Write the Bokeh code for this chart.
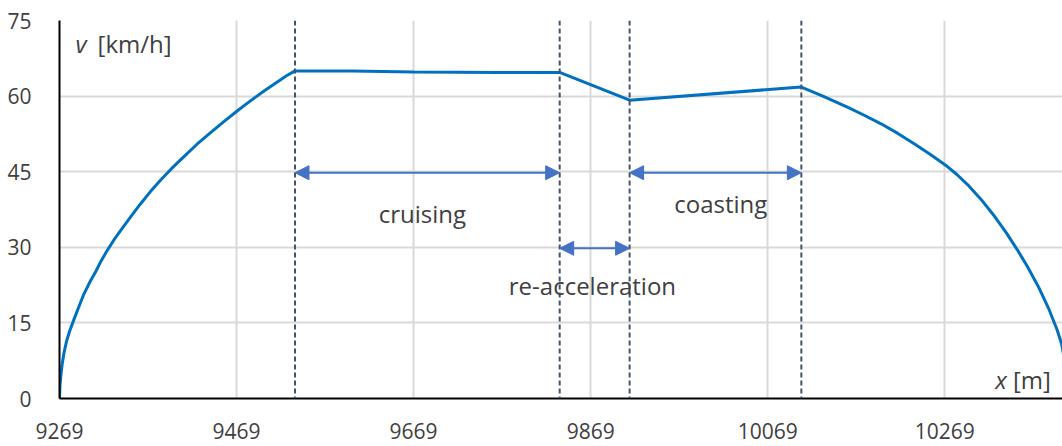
from bokeh.plotting import figure
from bokeh.models import Span, Arrow, NormalHead, Label, FixedTicker, Range1d, BasicTickFormatter
from bokeh.embed import file_html
from bokeh.resources import INLINE

# ---- data ----
x_m = [9269, 9269.5, 9270.5, 9272, 9274, 9277, 9280.5, 9284.5, 9290, 9296, 9303, 9310, 9316,
       9323, 9331, 9340, 9350, 9360, 9371, 9383, 9396, 9409, 9424, 9440, 9455,
       9470, 9485, 9500, 9515, 9525, 9535, 9600, 9669, 9767, 9834,
       9913, 10107,
       10130, 10159, 10178, 10197, 10216, 10234, 10252, 10270, 10283, 10295, 10310,
       10325, 10338, 10351, 10362, 10375, 10386, 10396, 10401, 10405, 10407.5, 10408.5]
v_kmh = [0, 2.5, 4.5, 6.8, 9.0, 11.4, 13.4, 15.3, 17.8, 20.5, 23.0, 25.2, 27.3,
         29.4, 31.6, 33.8, 36.2, 38.5, 40.9, 43.3, 45.7, 47.9, 50.4, 52.8, 55.0,
         57.1, 59.1, 61.0, 62.8, 64.0, 65.0, 65.0, 64.8, 64.7, 64.7,
         59.2, 61.8,
         60.1, 57.8, 56.2, 54.5, 52.6, 50.6, 48.5, 46.3, 44.4, 42.4, 39.5,
         36.2, 33.0, 29.5, 26.3, 22.1, 18.0, 13.6, 10.8, 7.0, 3.5, 0]

x_ticks = [9269, 9469, 9669, 9869, 10069, 10269]
y_ticks = [0, 15, 30, 45, 60, 75]

phase_bounds = [9535, 9834, 9913, 10107]
phase_names = ["cruising", "re-acceleration", "coasting"]
arrow_levels = [44.8, 29.8, 44.8]
label_x = [9679, 9871, 10016]
label_v = [36.7, 22.4, 38.7]

FONT = "Open Sans"
TXT = "#404040"

p = figure(width=1062, height=446, output_backend="svg", toolbar_location=None,
           x_range=Range1d(9269, 10402), y_range=Range1d(0, 75),
           min_border_left=59, min_border_right=0, min_border_top=20, min_border_bottom=48)
p.outline_line_color = None
p.background_fill_color = "white"

for ax in (p.xaxis, p.yaxis):
    ax.axis_line_color = "black"
    ax.axis_line_width = 2
    ax.major_tick_line_color = None
    ax.minor_tick_line_color = None
    ax.major_label_text_font = FONT
    ax.major_label_text_font_size = "21px"
    ax.major_label_text_color = TXT
p.xaxis.ticker = FixedTicker(ticks=x_ticks)
p.yaxis.ticker = FixedTicker(ticks=y_ticks)
p.xaxis.formatter = BasicTickFormatter(use_scientific=False)
p.xaxis.major_label_standoff = 18
p.yaxis.major_label_standoff = 22

p.xgrid.ticker = FixedTicker(ticks=x_ticks)
p.ygrid.ticker = FixedTicker(ticks=y_ticks)
p.grid.grid_line_color = "#D9D9D9"
p.grid.grid_line_width = 2

# phase boundaries
for b in phase_bounds:
    p.add_layout(Span(location=b, dimension="height", line_color="#44546A",
                      line_width=2, line_dash="5 3"))

# speed curve
p.line(x_m, v_kmh, line_color="#0070C0", line_width=3)

# phase arrows
for i, lvl in enumerate(arrow_levels):
    p.add_layout(Arrow(
        start=NormalHead(size=14, fill_color="#4472C4", line_color="#4472C4"),
        end=NormalHead(size=14, fill_color="#4472C4", line_color="#4472C4"),
        x_start=phase_bounds[i], y_start=lvl, x_end=phase_bounds[i + 1], y_end=lvl,
        line_color="#4472C4", line_width=2))

for name, lx, lv in zip(phase_names, label_x, label_v):
    p.add_layout(Label(x=lx, y=lv, text=name, text_font=FONT, text_font_size="24px",
                       text_color=TXT, text_align="center", text_baseline="middle"))

# axis titles inside the plot
p.add_layout(Label(x=9287, y=70.4, text="v", text_font=FONT, text_font_size="24px",
                   text_font_style="italic", text_color=TXT, text_baseline="alphabetic"))
p.add_layout(Label(x=9312, y=70.4, text="[km/h]", text_font=FONT, text_font_size="24px",
                   text_color=TXT, text_baseline="alphabetic"))
p.add_layout(Label(x=10326, y=3.7, text="x", text_font=FONT, text_font_size="24px",
                   text_font_style="italic", text_color=TXT, text_baseline="alphabetic"))
p.add_layout(Label(x=10346, y=3.7, text="[m]", text_font=FONT, text_font_size="24px",
                   text_color=TXT, text_baseline="alphabetic"))

open("out.html", "w").write(file_html(p, INLINE))
